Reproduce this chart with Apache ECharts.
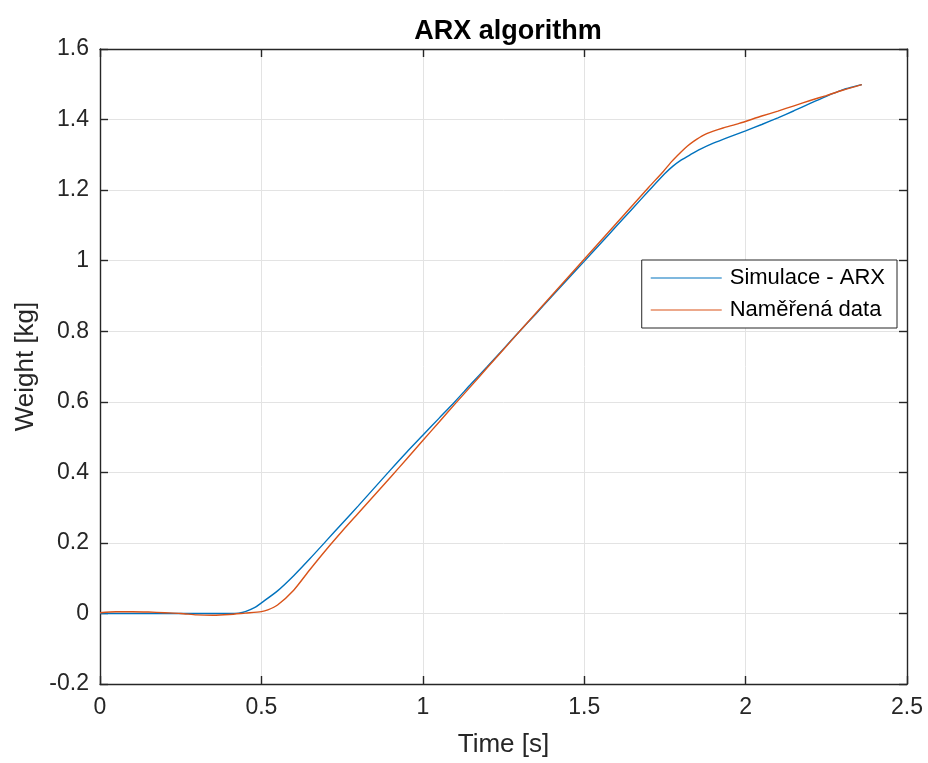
<!DOCTYPE html>
<html>
<head>
<meta charset="utf-8">
<script src="https://cdn.jsdelivr.net/npm/echarts@6/dist/echarts.min.js"></script>
<style>
  html, body { margin: 0; padding: 0; background: #fff; }
  #chart { width: 928px; height: 763px; }
</style>
</head>
<body>
<div id="chart"></div>
<script>
// Time samples [s] for the ARX simulation
const timeSim = [0, 0.05, 0.1, 0.15, 0.2, 0.25, 0.3, 0.35, 0.4, 0.43, 0.45, 0.48, 0.5, 0.55, 0.6, 0.65, 0.7, 0.75, 0.8, 0.85, 0.9, 0.95, 1.0, 1.05, 1.1, 1.15, 1.2, 1.25, 1.3, 1.35, 1.4, 1.45, 1.5, 1.55, 1.6, 1.65, 1.7, 1.75, 1.775, 1.8, 1.83, 1.86, 1.9, 1.95, 2.0, 2.05, 2.1, 2.15, 2.2, 2.25, 2.3, 2.33, 2.36];
// ARX simulated weight [kg]
const weightSim = [0, 0, 0, 0, 0, 0, 0, 0, 0, 0.001, 0.005, 0.017, 0.03, 0.064, 0.107, 0.155, 0.205, 0.255, 0.305, 0.356, 0.407, 0.457, 0.505, 0.553, 0.601, 0.651, 0.7, 0.75, 0.8, 0.849, 0.899, 0.949, 0.998, 1.048, 1.098, 1.148, 1.198, 1.247, 1.268, 1.285, 1.301, 1.316, 1.333, 1.351, 1.368, 1.386, 1.405, 1.425, 1.446, 1.466, 1.484, 1.492, 1.499];

// Time samples [s] for the measurement
const timeMeas = [0, 0.05, 0.1, 0.15, 0.2, 0.25, 0.3, 0.35, 0.4, 0.45, 0.5, 0.52, 0.55, 0.6, 0.65, 0.7, 0.75, 0.8, 0.85, 0.9, 0.95, 1.0, 1.05, 1.1, 1.15, 1.2, 1.25, 1.3, 1.35, 1.4, 1.45, 1.5, 1.55, 1.6, 1.65, 1.7, 1.745, 1.77, 1.8, 1.82, 1.84, 1.87, 1.9, 1.93, 1.98, 2.05, 2.1, 2.15, 2.2, 2.25, 2.3, 2.36];
// Measured weight [kg]
const weightMeas = [0.002, 0.005, 0.005, 0.004, 0.002, 0, -0.004, -0.005, -0.003, 0.001, 0.005, 0.01, 0.024, 0.066, 0.124, 0.18, 0.233, 0.284, 0.335, 0.386, 0.438, 0.49, 0.542, 0.594, 0.645, 0.697, 0.748, 0.8, 0.851, 0.902, 0.953, 1.004, 1.055, 1.106, 1.157, 1.208, 1.253, 1.28, 1.308, 1.325, 1.339, 1.356, 1.367, 1.376, 1.389, 1.41, 1.424, 1.439, 1.454, 1.468, 1.483, 1.499];

const xTicks = [0, 0.5, 1, 1.5, 2, 2.5];
const yTicks = [-0.2, 0, 0.2, 0.4, 0.6, 0.8, 1, 1.2, 1.4, 1.6];

const seriesNames = ['Simulace - ARX', 'Naměřená data'];
const seriesColors = ['#0072BD', '#D95319'];

const FONT = 'Liberation Sans, Arial, Helvetica, sans-serif';
const TEXT = '#262626';

function pairs(xs, ys) { return xs.map((x, i) => [x, ys[i]]); }

const chart = echarts.init(document.getElementById('chart'), null, { renderer: 'canvas' });

const axisLine = { show: true, onZero: false, lineStyle: { color: '#262626', width: 1.4 } };
const tickIn = { show: true, inside: true, length: 8, lineStyle: { color: '#262626', width: 1.4 } };
const gridLine = { show: true, lineStyle: { color: '#e3e3e3', width: 1 } };
const fmt = v => String(+v.toFixed(2));

chart.setOption({
  animation: false,
  backgroundColor: '#ffffff',
  title: {
    text: 'ARX algorithm',
    left: 503, top: 13, textAlign: 'center',
    textStyle: { fontFamily: FONT, fontSize: 27, fontWeight: 'bold', color: '#000' }
  },
  legend: {
    orient: 'vertical',
    right: 31, top: 260,
    padding: [7, 12, 7, 9],
    itemGap: 10,
    itemWidth: 71, itemHeight: 14,
    borderColor: '#262626', borderWidth: 1,
    backgroundColor: '#fff',
    icon: 'path://M0,6.5 L71,6.5 L71,7.7 L0,7.7 Z',
    textStyle: { fontFamily: FONT, fontSize: 22, color: '#000', padding: [0, 0, 0, 3] },
    data: seriesNames
  },
  grid: { left: 100, right: 21, top: 49, bottom: 79 },
  xAxis: [
    {
      type: 'value', min: xTicks[0], max: xTicks[xTicks.length - 1], interval: 0.5, position: 'bottom',
      name: 'Time [s]', nameLocation: 'middle', nameGap: 48,
      nameTextStyle: { fontFamily: FONT, fontSize: 26, color: TEXT },
      axisLine: axisLine, axisTick: tickIn,
      axisLabel: { fontFamily: FONT, fontSize: 23, color: TEXT, margin: 12, formatter: fmt },
      splitLine: gridLine
    },
    {
      type: 'value', min: xTicks[0], max: xTicks[xTicks.length - 1], interval: 0.5, position: 'top',
      axisLine: axisLine, axisTick: tickIn, axisLabel: { show: false }, splitLine: { show: false }
    }
  ],
  yAxis: [
    {
      type: 'value', min: yTicks[0], max: yTicks[yTicks.length - 1], interval: 0.2, position: 'left',
      name: 'Weight [kg]', nameLocation: 'middle', nameGap: 59, nameRotate: 90,
      nameTextStyle: { fontFamily: FONT, fontSize: 26, color: TEXT },
      axisLine: axisLine, axisTick: tickIn,
      axisLabel: { fontFamily: FONT, fontSize: 23, color: TEXT, margin: 11, formatter: fmt },
      splitLine: gridLine
    },
    {
      type: 'value', min: yTicks[0], max: yTicks[yTicks.length - 1], interval: 0.2, position: 'right',
      axisLine: axisLine, axisTick: tickIn, axisLabel: { show: false }, splitLine: { show: false }
    }
  ],
  series: [
    {
      name: seriesNames[0], type: 'line', xAxisIndex: 0, yAxisIndex: 0,
      data: pairs(timeSim, weightSim), smooth: 0.25, showSymbol: false,
      lineStyle: { color: seriesColors[0], width: 1.4 }, itemStyle: { color: seriesColors[0] }
    },
    {
      name: seriesNames[1], type: 'line', xAxisIndex: 0, yAxisIndex: 0,
      data: pairs(timeMeas, weightMeas), smooth: 0.25, showSymbol: false,
      lineStyle: { color: seriesColors[1], width: 1.4 }, itemStyle: { color: seriesColors[1] }
    }
  ]
});
</script>
</body>
</html>
